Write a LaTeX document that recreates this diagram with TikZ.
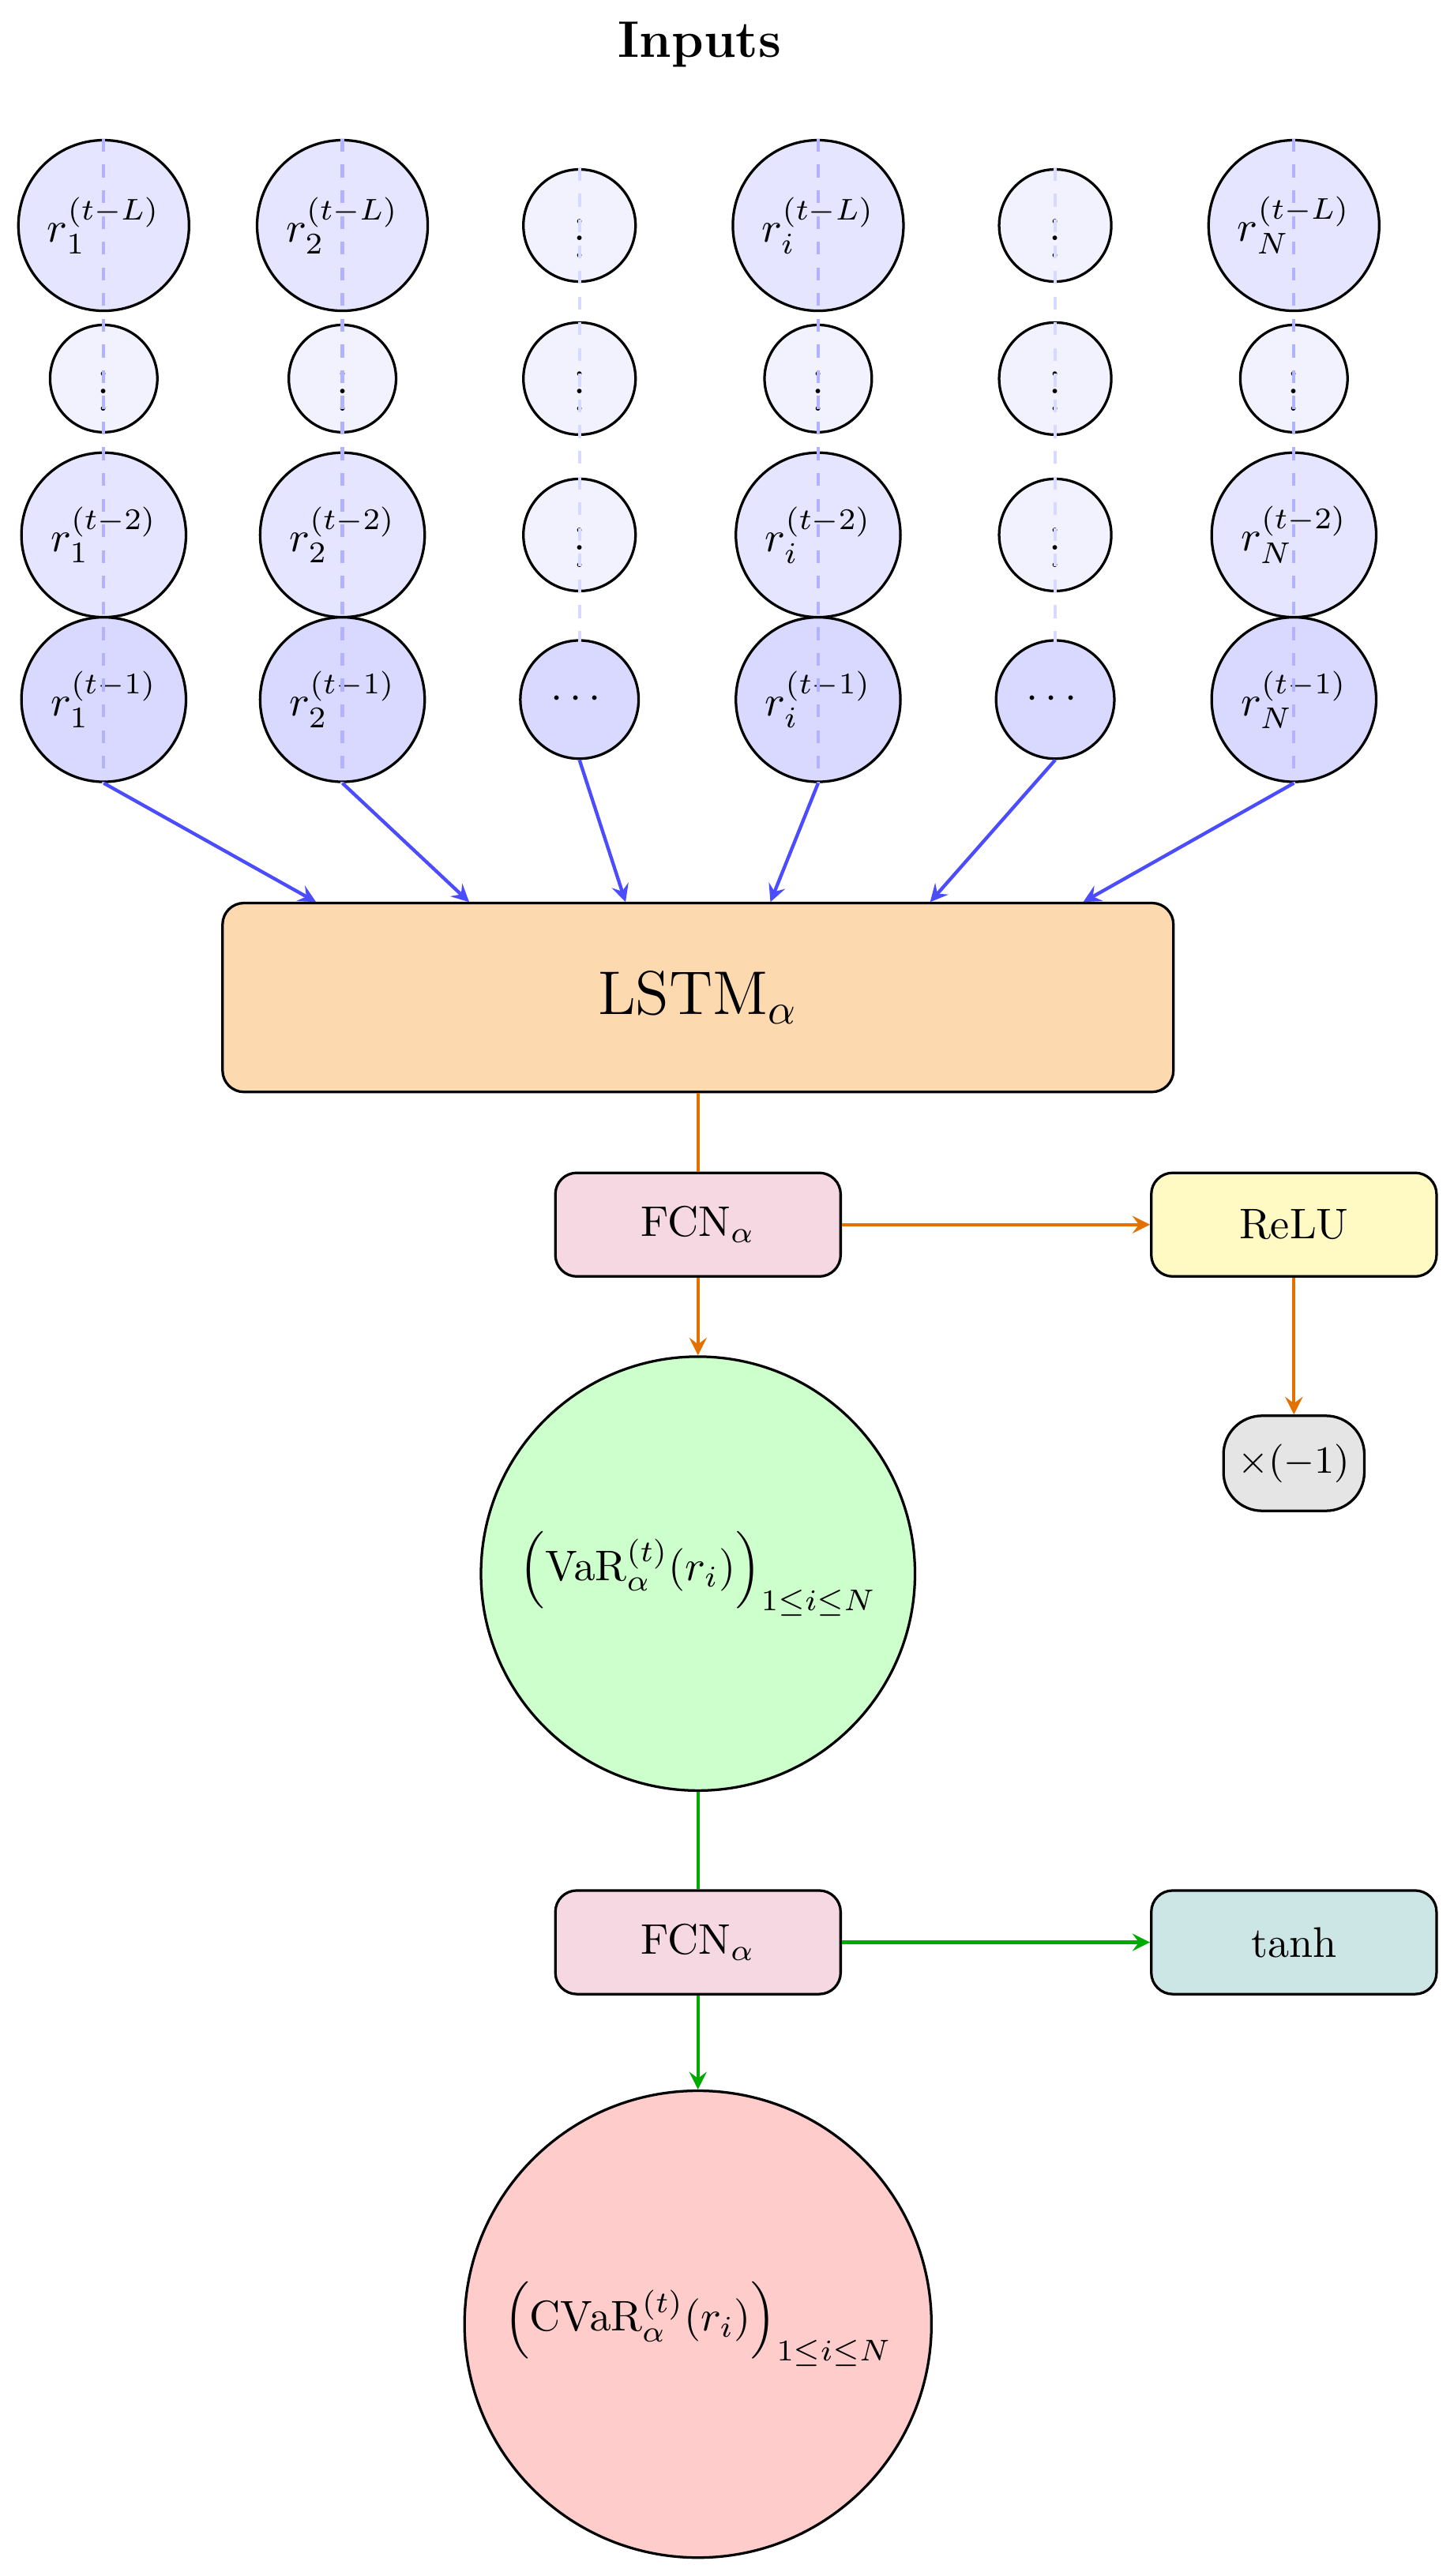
\documentclass[tikz,border=0pt]{standalone}
\usepackage{amsmath}
\usepackage{amssymb}
\usepackage{tikz}
\usetikzlibrary{shapes,arrows,positioning,fit,backgrounds}

\definecolor{lstmorange}{RGB}{253,217,176}
\definecolor{fcnpink}{RGB}{245,216,226}
\definecolor{relucol}{RGB}{255,250,196}
\definecolor{tanhcol}{RGB}{204,230,230}
\definecolor{arrorange}{RGB}{228,112,0}
\definecolor{arrgreen}{RGB}{0,170,0}

\tikzset{
  rbig/.style={draw, circle, semithick, fill=blue!10, minimum size=1.40cm, inner sep=0pt},
  rmid/.style={draw, circle, semithick, fill=blue!10, minimum size=1.35cm, inner sep=0pt},
  rlast/.style={draw, circle, semithick, fill=blue!15, minimum size=1.35cm, inner sep=0pt},
  rdots/.style={draw, circle, semithick, fill=blue!5, minimum size=0.88cm, inner sep=0pt},
  cdots/.style={draw, circle, semithick, fill=blue!5, minimum size=0.92cm, inner sep=0pt},
  block/.style={draw, rectangle, rounded corners=5pt, semithick, minimum width=2.34cm, minimum height=0.85cm}
}

\begin{document}
\begin{tikzpicture}[x=0.0135cm, y=-0.0135cm, >=stealth]
        \useasboundingbox (0,0) rectangle (883,1565);
        % Title
        \node[font=\large\bfseries] (title) at (425,27) {Inputs};

        % Input columns
        \node[rbig] (r1L) at (63,137) {$r_1^{(t-L)}$};
        \node[rdots] (r1d) at (63,230) {$\vdots$};
        \node[rmid] (r12) at (63,325) {$r_1^{(t-2)}$};
        \node[rlast] (r11) at (63,425) {$r_1^{(t-1)}$};

        \node[rbig] (r2L) at (208,137) {$r_2^{(t-L)}$};
        \node[rdots] (r2d) at (208,230) {$\vdots$};
        \node[rmid] (r22) at (208,325) {$r_2^{(t-2)}$};
        \node[rlast] (r21) at (208,425) {$r_2^{(t-1)}$};

        \node[cdots] (d1a) at (352,137) {$\vdots$};
        \node[cdots] (d1b) at (352,230) {$\vdots$};
        \node[cdots] (d1c) at (352,325) {$\vdots$};
        \node[cdots, fill=blue!15, minimum size=0.97cm] (d1d) at (352,425) {$\cdots$};

        \node[rbig] (riL) at (497,137) {$r_i^{(t-L)}$};
        \node[rdots] (rid) at (497,230) {$\vdots$};
        \node[rmid] (ri2) at (497,325) {$r_i^{(t-2)}$};
        \node[rlast] (ri1) at (497,425) {$r_i^{(t-1)}$};

        \node[cdots] (d2a) at (641,137) {$\vdots$};
        \node[cdots] (d2b) at (641,230) {$\vdots$};
        \node[cdots] (d2c) at (641,325) {$\vdots$};
        \node[cdots, fill=blue!15, minimum size=0.97cm] (d2d) at (641,425) {$\cdots$};

        \node[rbig] (rNL) at (786,137) {$r_N^{(t-L)}$};
        \node[rdots] (rNd) at (786,230) {$\vdots$};
        \node[rmid] (rN2) at (786,325) {$r_N^{(t-2)}$};
        \node[rlast] (rN1) at (786,425) {$r_N^{(t-1)}$};

        % Time axes
        \draw[blue!30, thick, dashed] (r1L.north) -- (r11.south);
        \draw[blue!30, thick, dashed] (r2L.north) -- (r21.south);
        \draw[blue!15, thick, dashed] (d1a.north) -- (d1d.center);
        \draw[blue!30, thick, dashed] (riL.north) -- (ri1.south);
        \draw[blue!15, thick, dashed] (d2a.north) -- (d2d.center);
        \draw[blue!30, thick, dashed] (rNL.north) -- (rN1.south);

        % LSTM
        \node[block, fill=lstmorange, minimum width=7.8cm, minimum height=1.55cm, font=\Large] (lstm) at (424,606) {LSTM$_\alpha$};
        \coordinate (in1) at (192,548);
        \coordinate (in2) at (285,548);
        \coordinate (in3) at (380,548);
        \coordinate (in4) at (468,548);
        \coordinate (in5) at (565,548);
        \coordinate (in6) at (658,548);

        % Arrows into LSTM
        \draw[->, blue!70, thick] (r11.south) -- (in1);
        \draw[->, blue!70, thick] (r21.south) -- (in2);
        \draw[->, blue!70, thick] (d1d.south) -- (in3);
        \draw[->, blue!70, thick] (ri1.south) -- (in4);
        \draw[->, blue!70, thick] (d2d.south) -- (in5);
        \draw[->, blue!70, thick] (rN1.south) -- (in6);

        % VaR branch
        \node[block, fill=fcnpink] (fcn1) at (424,744) {FCN$_\alpha$};
        \node[block, fill=relucol] (relu) at (786,744) {ReLU};
        \node[draw, semithick, rectangle, rounded corners=9pt, fill=gray!20, minimum width=1.13cm, minimum height=0.78cm, font=\small] (neg) at (786,889) {$\times(-1)$};
        \node[draw, circle, semithick, fill=green!20, minimum size=3.56cm, inner sep=0pt] (var) at (424,956) {$\Big(\mathrm{VaR}_\alpha^{(t)}(r_i)\Big)_{1\leq i\leq N}$};

        \draw[arrorange, thick] (lstm.south -| fcn1.north) -- (fcn1.north);
        \draw[->, arrorange, thick] (fcn1) -- (relu);
        \draw[->, arrorange, thick] (fcn1.south) -- (var.north);
        \draw[->, arrorange, thick] (relu) -- (neg);

        % CVaR branch
        \node[block, fill=fcnpink] (fcn2) at (424,1180) {FCN$_\alpha$};
        \node[block, fill=tanhcol] (tanh) at (786,1180) {tanh};
        \node[draw, circle, semithick, fill=red!20, minimum size=3.83cm, inner sep=0pt] (cvar) at (424,1412) {$\Big(\mathrm{CVaR}_\alpha^{(t)}(r_i)\Big)_{1\leq i\leq N}$};

        \draw[arrgreen, thick] (var.south) -- (fcn2.north);
        \draw[->, arrgreen, thick] (fcn2) -- (tanh);
        \draw[->, arrgreen, thick] (fcn2.south) -- (cvar.north);
\end{tikzpicture}
\end{document}
